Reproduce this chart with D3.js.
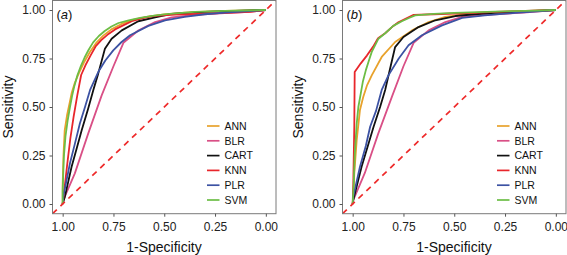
<!DOCTYPE html>
<html><head><meta charset="utf-8">
<script src="https://cdn.jsdelivr.net/npm/d3@7"></script>
<style>
html,body{margin:0;padding:0;background:#fff;}
svg{display:block;font-family:"Liberation Sans",Arial,Helvetica,sans-serif;}
</style></head>
<body><svg id="chart" width="567" height="255"></svg>
<script>
// ---- data: [specificity, sensitivity] ----
const models = ["ANN","BLR","CART","KNN","PLR","SVM"];
const modelColors = ["#E8A22C","#D94F86","#111111","#E8262B","#3C52A3","#6CBD45"];
const tickValues = [0, 0.25, 0.5, 0.75, 1];
const panelLabels = ["a","b"];

const rocA_ANN = [[1,0],[1,0.1],[0.996,0.25],[0.99,0.38],[0.978,0.46],[0.967,0.515],[0.955,0.575],[0.94,0.625],[0.92,0.675],[0.895,0.73],[0.865,0.785],[0.835,0.83],[0.8,0.868],[0.76,0.9],[0.71,0.928],[0.65,0.95],[0.58,0.966],[0.5,0.977],[0.4,0.986],[0.3,0.992],[0.2,0.996],[0.1,0.998],[0,1]];
const rocA_BLR = [[1,0],[0.997,0.02],[0.94,0.158],[0.874,0.364],[0.808,0.56],[0.75,0.71],[0.701,0.831],[0.628,0.894],[0.545,0.938],[0.463,0.962],[0.35,0.975],[0.16,0.986],[0.08,0.99],[0,1]];
const rocA_CART = [[1,0],[0.989,0.038],[0.956,0.192],[0.93,0.29],[0.906,0.381],[0.875,0.49],[0.849,0.588],[0.825,0.672],[0.792,0.8],[0.759,0.852],[0.709,0.895],[0.628,0.942],[0.545,0.962],[0.463,0.98],[0.3,0.99],[0.15,0.995],[0,1]];
const rocA_KNN = [[1,0],[0.992,0.072],[0.978,0.2],[0.962,0.34],[0.946,0.45],[0.928,0.56],[0.909,0.665],[0.888,0.715],[0.863,0.765],[0.838,0.812],[0.81,0.845],[0.78,0.872],[0.742,0.9],[0.7,0.922],[0.66,0.942],[0.6,0.96],[0.545,0.97],[0.447,0.976],[0.3,0.981],[0.16,0.986],[0.08,0.99],[0,1]];
const rocA_PLR = [[1,0],[0.997,0.038],[0.964,0.21],[0.94,0.31],[0.915,0.416],[0.89,0.5],[0.865,0.588],[0.825,0.68],[0.79,0.74],[0.751,0.792],[0.71,0.835],[0.668,0.87],[0.578,0.918],[0.496,0.947],[0.4,0.965],[0.3,0.978],[0.2,0.986],[0.1,0.993],[0,1]];
const rocA_SVM = [[1,0],[1,0.07],[0.994,0.244],[0.986,0.35],[0.975,0.433],[0.964,0.5],[0.954,0.555],[0.942,0.61],[0.927,0.665],[0.91,0.712],[0.892,0.755],[0.872,0.795],[0.85,0.833],[0.822,0.866],[0.793,0.892],[0.76,0.915],[0.725,0.933],[0.675,0.947],[0.619,0.959],[0.55,0.971],[0.488,0.979],[0.35,0.99],[0.2,0.996],[0,1]];

const rocB_ANN = [[1,0],[0.995,0.08],[0.992,0.158],[0.98,0.33],[0.964,0.485],[0.948,0.552],[0.93,0.61],[0.906,0.663],[0.857,0.758],[0.791,0.835],[0.708,0.895],[0.626,0.938],[0.544,0.964],[0.461,0.976],[0.35,0.985],[0.2,0.993],[0,1]];
const rocB_BLR = [[1,0],[0.997,0.02],[0.94,0.16],[0.875,0.36],[0.807,0.552],[0.75,0.71],[0.7,0.831],[0.626,0.895],[0.544,0.938],[0.461,0.964],[0.35,0.975],[0.16,0.986],[0,1]];
const rocB_CART = [[1,0],[0.997,0.02],[0.956,0.192],[0.925,0.3],[0.897,0.398],[0.865,0.5],[0.84,0.588],[0.816,0.697],[0.791,0.809],[0.75,0.861],[0.676,0.912],[0.593,0.947],[0.494,0.969],[0.4,0.978],[0.3,0.985],[0.15,0.993],[0,1]];
const rocB_KNN = [[1,0],[0.997,0.1],[0.992,0.4],[0.99,0.68],[0.96,0.725],[0.93,0.765],[0.9,0.81],[0.875,0.855],[0.84,0.88],[0.8,0.918],[0.775,0.937],[0.74,0.955],[0.7,0.975],[0.6,0.978],[0.5,0.982],[0.4,0.985],[0.3,0.99],[0.15,0.995],[0,1]];
const rocB_PLR = [[1,0],[0.997,0.038],[0.964,0.192],[0.935,0.3],[0.914,0.398],[0.885,0.48],[0.857,0.588],[0.824,0.663],[0.774,0.749],[0.725,0.818],[0.659,0.87],[0.56,0.921],[0.461,0.959],[0.35,0.972],[0.2,0.985],[0,1]];
const rocB_SVM = [[1,0],[0.995,0.1],[0.99,0.25],[0.98,0.416],[0.972,0.5],[0.96,0.57],[0.95,0.63],[0.935,0.69],[0.92,0.74],[0.906,0.784],[0.873,0.852],[0.84,0.88],[0.8,0.918],[0.758,0.942],[0.72,0.96],[0.692,0.972],[0.6,0.98],[0.5,0.985],[0.3,0.992],[0.15,0.996],[0,1]];

const panelsData = [
  [rocA_ANN, rocA_BLR, rocA_CART, rocA_KNN, rocA_PLR, rocA_SVM],
  [rocB_ANN, rocB_BLR, rocB_CART, rocB_KNN, rocB_PLR, rocB_SVM]
];

// ---- drawing ----
const svg = d3.select("#chart");
const panelOffsets = [0, 290];

panelsData.forEach((series, pi) => {
  const ox = panelOffsets[pi];
  const g = svg.append("g").attr("transform", `translate(${ox},0)`);
  const x = d3.scaleLinear().domain([1.05, -0.05]).range([52.5, 276]);
  const y = d3.scaleLinear().domain([-0.05, 1.05]).range([213.7, 0.3]);

  const clipId = "clip" + pi;
  g.append("clipPath").attr("id", clipId).append("rect")
    .attr("x", 52.5).attr("y", 0.3).attr("width", 223.5).attr("height", 213.4);

  const plot = g.append("g").attr("clip-path", `url(#${clipId})`);
  const line = d3.line().x(d => x(d[0])).y(d => y(d[1]));

  series.forEach((s, i) => {
    plot.append("path").datum(s).attr("d", line)
      .attr("fill", "none").attr("stroke", modelColors[i])
      .attr("stroke-width", 1.8).attr("stroke-linejoin", "round");
  });

  // diagonal reference (abline across panel)
  plot.append("path").datum([[1.05, -0.05], [-0.05, 1.05]]).attr("d", line)
    .attr("fill", "none").attr("stroke", "#EE2A2A")
    .attr("stroke-width", 1.7).attr("stroke-dasharray", "6,5");

  // border
  g.append("rect").attr("x", 52.5).attr("y", 0.5).attr("width", 223.5).attr("height", 213.2)
    .attr("fill", "none").attr("stroke", "#7a7a7a").attr("stroke-width", 1);

  // axes
  const yAxis = g.append("g").attr("transform", "translate(52.5,0)")
    .call(d3.axisLeft(y).tickValues(tickValues).tickFormat(d3.format(".2f")).tickSize(3).tickPadding(4));
  const xAxis = g.append("g").attr("transform", "translate(0,213.7)")
    .call(d3.axisBottom(x).tickValues(tickValues).tickFormat(d3.format(".2f")).tickSize(3).tickPadding(6));
  [yAxis, xAxis].forEach(a => {
    a.select(".domain").remove();
    a.selectAll(".tick line").attr("stroke", "#555");
    a.selectAll(".tick text").attr("fill", "#222").style("font-size", "12px")
      .style("font-family", '"Liberation Sans",Arial,sans-serif');
  });

  // axis titles
  g.append("text").attr("x", 164).attr("y", 252).attr("text-anchor", "middle")
    .style("font-size", "14px").attr("fill", "#111").text("1-Specificity");
  g.append("text").attr("transform", "translate(12.5,107) rotate(-90)").attr("text-anchor", "middle")
    .style("font-size", "14px").attr("fill", "#111").text("Sensitivity");

  // panel label
  const lab = g.append("text").attr("x", 56.5).attr("y", 19).style("font-size", "13px").attr("fill", "#111");
  lab.append("tspan").text("(");
  lab.append("tspan").style("font-style", "italic").text(panelLabels[pi]);
  lab.append("tspan").text(")");

  // legend
  const leg = g.append("g");
  models.forEach((m, i) => {
    const ly = 126 + i * 14.8;
    leg.append("line").attr("x1", 207).attr("x2", 219.5).attr("y1", ly).attr("y2", ly)
      .attr("stroke", modelColors[i]).attr("stroke-width", 1.7);
    leg.append("text").attr("x", 224.5).attr("y", ly).attr("dy", "0.36em")
      .style("font-size", "10.5px").attr("fill", "#111").text(m);
  });
});
</script>
</body></html>
